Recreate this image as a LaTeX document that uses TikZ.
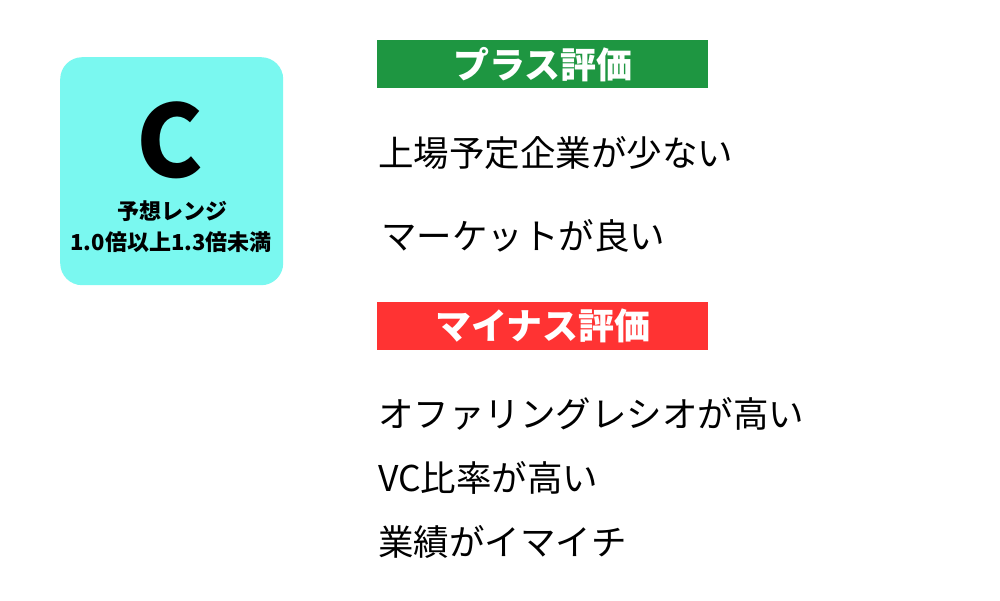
\documentclass[tikz,border=0pt]{standalone}
\usepackage{fontspec}
\setmainfont{Noto Sans CJK JP}
\definecolor{cy}{HTML}{7AF8F0}
\definecolor{gr}{HTML}{1E9641}
\definecolor{rd}{HTML}{FF3333}
\begin{document}
\begin{tikzpicture}[x=1pt,y=-1pt]
\tikzset{bar/.style={minimum width=331pt,minimum height=48pt,inner sep=0pt,anchor=north west,text=white,font=\fontsize{36}{38}\selectfont\bfseries},
item/.style={anchor=west,inner sep=0pt,font=\fontsize{35.5}{38}\selectfont}}
\useasboundingbox (0,0) rectangle (1000,600);
\node[fill=white,minimum width=1000pt,minimum height=600pt,anchor=north west,inner sep=0pt] (bg) at (0,0) {};
\node[fill=cy,rounded corners=22pt,minimum width=223pt,minimum height=228pt,anchor=north west,inner sep=0pt] (box) at (60,57) {};
\node[inner sep=0pt,font=\fontsize{100}{104}\selectfont\bfseries] (c) at (170,140) {C};
\node[inner sep=0pt,font=\fontsize{22}{24}\selectfont\bfseries] (r1) at (172,211) {予想レンジ};
\node[inner sep=0pt,font=\fontsize{22}{24}\selectfont\bfseries] (r2) at (171,242) {1.0倍以上1.3倍未満};
\node[bar,fill=gr] (plus) at (377,40) {プラス評価};
\node[bar,fill=rd] (minus) at (377,302) {マイナス評価};
\node[item] (p1) at (378,153) {上場予定企業が少ない};
\node[item] (p2) at (381,236) {マーケットが良い};
\node[item] (m1) at (378,414) {オファリングレシオが高い};
\node[item] (m2) at (378,478) {VC比率が高い};
\node[item] (m3) at (378,542) {業績がイマイチ};
\end{tikzpicture}
\end{document}
